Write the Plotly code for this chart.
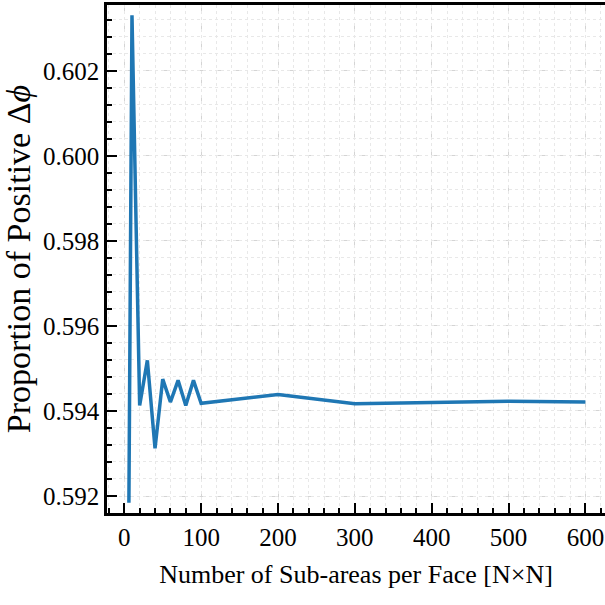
import plotly.graph_objects as go

n_sub = [6, 10, 20, 30, 40, 50, 60, 70, 80, 90, 100, 200, 300, 400, 500, 600]
proportion = [0.59184, 0.60331, 0.59413, 0.59519, 0.59312, 0.59475, 0.59421,
              0.59472, 0.59413, 0.59472, 0.59418, 0.59439, 0.59417, 0.59421,
              0.59423, 0.59421]

x_ticks = [0, 100, 200, 300, 400, 500, 600]
y_ticks = [0.592, 0.594, 0.596, 0.598, 0.600, 0.602]
y_tick_text = ["0.592", "0.594", "0.596", "0.598", "0.600", "0.602"]

FONT = "Liberation Serif"
LINE_COLOR = "#1f77b4"
TICKFONT = dict(family=FONT, size=25, color="black")
X_RANGE = [-22.5, 625.5]
Y_RANGE = [0.5916, 0.60355]

fig = go.Figure()
fig.add_trace(go.Scatter(
    x=n_sub, y=proportion, mode="lines",
    line=dict(color=LINE_COLOR, width=3.5),
    showlegend=False,
))

fig.update_layout(
    width=605, height=605,
    margin=dict(l=107, r=0, t=5, b=92),
    plot_bgcolor="white", paper_bgcolor="white",
    font=dict(family=FONT, color="black", size=25),
    xaxis2=dict(
        overlaying="x", range=X_RANGE, side="bottom",
        tickmode="linear", tick0=0, dtick=20,
        ticks="inside", ticklen=5, tickwidth=1.5, tickcolor="black",
        showticklabels=False, showline=False, zeroline=False,
        showgrid=True, gridcolor="#e8e8e8", griddash="dot", gridwidth=1,
        anchor="y",
    ),
    yaxis2=dict(
        overlaying="y", range=Y_RANGE, side="left",
        tickmode="linear", tick0=0.592, dtick=0.0004,
        ticks="inside", ticklen=5, tickwidth=1.5, tickcolor="black",
        showticklabels=False, showline=False, zeroline=False,
        showgrid=True, gridcolor="#e8e8e8", griddash="dot", gridwidth=1,
        anchor="x",
    ),
    xaxis=dict(
        showline=True, linecolor="black", linewidth=2.5, mirror=True,
        ticks="inside", ticklen=10, tickwidth=2, tickcolor="black",
        showgrid=True, gridcolor="#d4d4d4", gridwidth=1.3, griddash="dash",
        zeroline=False,
        range=X_RANGE,
        tickmode="array", tickvals=x_ticks,
        tickfont=TICKFONT,
        title=dict(text="Number of Sub-areas per Face [N×N]",
                   font=dict(family=FONT, size=26, color="black"), standoff=16),
    ),
    yaxis=dict(
        showline=True, linecolor="black", linewidth=2.5, mirror=False,
        ticks="inside", ticklen=10, tickwidth=2, tickcolor="black",
        showgrid=True, gridcolor="#d4d4d4", gridwidth=1.3, griddash="dash",
        zeroline=False,
        range=Y_RANGE,
        tickmode="array", tickvals=y_ticks, ticktext=y_tick_text,
        tickfont=TICKFONT,
        title=dict(text="Proportion of Positive Δ<i>ϕ</i>",
                   font=dict(family=FONT, size=34, color="black"), standoff=4),
    ),
)
fig.add_trace(go.Scatter(x=[None], y=[None], xaxis="x2", yaxis="y2",
                         showlegend=False, hoverinfo="skip"))

fig.write_html("out.html")
